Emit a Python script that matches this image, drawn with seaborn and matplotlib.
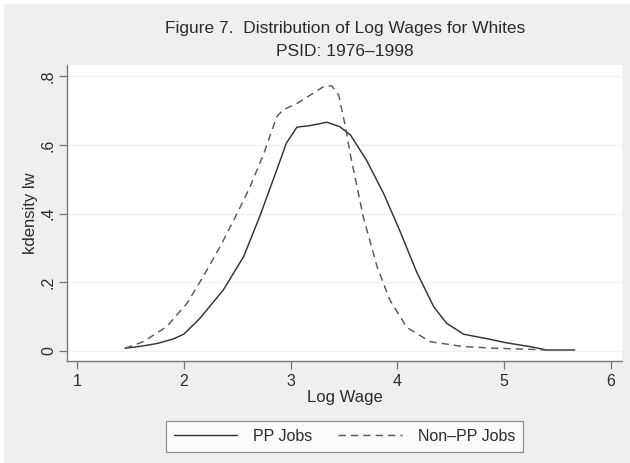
import matplotlib
matplotlib.use("Agg")
import matplotlib.pyplot as plt
from matplotlib.patches import Rectangle
import pandas as pd
import seaborn as sns

# Kernel density estimates of log wages, by job type
pp_logwage = [1.45, 1.60, 1.75, 1.90, 2.00, 2.15, 2.37, 2.56, 2.71, 2.87, 2.96, 3.06,
              3.18, 3.34, 3.46, 3.56, 3.71, 3.87, 4.02, 4.18, 4.34, 4.46, 4.62, 4.87,
              5.02, 5.24, 5.40, 5.66]
pp_density = [0.008, 0.014, 0.022, 0.035, 0.049, 0.095, 0.178, 0.275, 0.391, 0.527,
              0.605, 0.652, 0.656, 0.666, 0.653, 0.629, 0.556, 0.459, 0.352, 0.230,
              0.129, 0.081, 0.049, 0.034, 0.024, 0.013, 0.003, 0.003]

nonpp_logwage = [1.45, 1.62, 1.84, 2.03, 2.18, 2.34, 2.50, 2.62, 2.75, 2.87, 2.93,
                 3.06, 3.21, 3.32, 3.385, 3.45, 3.51, 3.56, 3.68, 3.81, 3.93, 4.09,
                 4.31, 4.62, 4.93, 5.24, 5.40]
nonpp_density = [0.008, 0.027, 0.071, 0.139, 0.216, 0.304, 0.401, 0.478, 0.576, 0.682,
                 0.702, 0.721, 0.750, 0.772, 0.772, 0.745, 0.658, 0.571, 0.391, 0.245,
                 0.148, 0.068, 0.027, 0.013, 0.008, 0.005, 0.003]

series_names = ["PP Jobs", "Non\u2013PP Jobs"]
x_ticks = [1, 2, 3, 4, 5, 6]
y_ticks = [0, 0.2, 0.4, 0.6, 0.8]
y_tick_labels = ["0", ".2", ".4", ".6", ".8"]

df = pd.concat([
    pd.DataFrame({"lw": pp_logwage, "density": pp_density, "group": series_names[0]}),
    pd.DataFrame({"lw": nonpp_logwage, "density": nonpp_density, "group": series_names[1]}),
], ignore_index=True)

sns.set_theme(style="white")
plt.rcParams["font.family"] = ["Liberation Sans", "DejaVu Sans"]

text_color = "#2B2B2B"
fig = plt.figure(figsize=(6.3, 4.63), dpi=100, facecolor="white")
fig.patches.append(Rectangle((4 / 630, 0), 1, 1 - 4 / 463, transform=fig.transFigure,
                             facecolor="#EFEFEF", edgecolor="none", zorder=-10))

ax = fig.add_axes([67 / 630, 1 - 361 / 463, (622 - 67) / 630, (361 - 65) / 463])
ax.set_facecolor("white")

sns.lineplot(data=df, x="lw", y="density", hue="group", style="group",
             hue_order=series_names, style_order=series_names,
             palette=["#333333", "#585858"],
             dashes={series_names[0]: "", series_names[1]: (5, 3.5)},
             estimator=None, sort=True, linewidth=1.05, ax=ax)

ax.set_xlim(0.906, 6.103)
ax.set_ylim(-0.029, 0.8326)
ax.set_xticks(x_ticks)
ax.set_xticklabels([str(t) for t in x_ticks])
ax.set_yticks(y_ticks)
ax.set_yticklabels(y_tick_labels, rotation=90, va="center")

ax.grid(axis="y", color="#F1F1F1", linewidth=1.0)
ax.grid(axis="x", visible=False)
for side in ["top", "right"]:
    ax.spines[side].set_visible(False)
for side in ["left", "bottom"]:
    ax.spines[side].set_color("#777777")
    ax.spines[side].set_linewidth(1.0)

ax.tick_params(axis="both", direction="out", length=5.5, width=0.9, color="#777777",
               labelsize=11.5, labelcolor=text_color, left=True, bottom=True)
ax.tick_params(axis="y", pad=2.5)
ax.tick_params(axis="x", pad=3.5)

ax.set_xlabel("Log Wage", fontsize=12, color=text_color, labelpad=1)
ax.set_ylabel("kdensity lw", fontsize=12, color=text_color, labelpad=2)

fig.text(0.548, 1 - 29 / 463, "Figure 7.  Distribution of Log Wages for Whites",
         ha="center", va="center", fontsize=12.5, color=text_color)
fig.text(0.548, 1 - 52 / 463, "PSID: 1976\u20131998",
         ha="center", va="center", fontsize=12.5, color=text_color)

handles, labels = ax.get_legend_handles_labels()
ax.get_legend().remove()
leg = fig.legend(handles, labels, loc="center", ncol=2,
                 bbox_to_anchor=(344.5 / 630, 1 - 436.5 / 463), bbox_transform=fig.transFigure,
                 frameon=True, fancybox=False, fontsize=11.5, handlelength=4.0,
                 handletextpad=1.0, columnspacing=1.6, borderpad=0.5)
leg.get_frame().set_edgecolor("#777777")
leg.get_frame().set_linewidth(0.9)
leg.get_frame().set_facecolor("white")
for t in leg.get_texts():
    t.set_color(text_color)

fig.savefig("out.png", dpi=100, facecolor=fig.get_facecolor())
